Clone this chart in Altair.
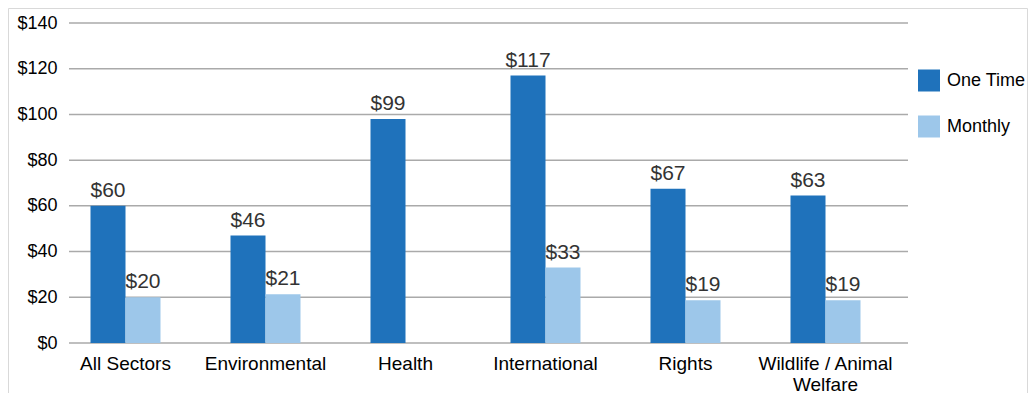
import altair as alt
import pandas as pd

categories = ["All Sectors", "Environmental", "Health", "International", "Rights", "Wildlife / Animal Welfare"]
series_names = ["One Time", "Monthly"]
one_time = [60, 47, 98, 117, 67.5, 64.5]
monthly = [20, 21.3, None, 33, 18.7, 18.7]
one_time_labels = ["$60", "$46", "$99", "$117", "$67", "$63"]
monthly_labels = ["$20", "$21", None, "$33", "$19", "$19"]
y_ticks = [0, 20, 40, 60, 80, 100, 120, 140]
colors = ["#1f72bb", "#9dc7ea"]

rows = []
for c, v, l in zip(categories, one_time, one_time_labels):
    rows.append({"category": c, "series": "One Time", "value": v, "label": l})
for c, v, l in zip(categories, monthly, monthly_labels):
    if v is not None:
        rows.append({"category": c, "series": "Monthly", "value": v, "label": l})
df = pd.DataFrame(rows)
grid_df = pd.DataFrame({"value": y_ticks})

FONT = "Liberation Sans"

x_enc = alt.X(
    "category:N",
    sort=categories,
    scale=alt.Scale(range=[-13.5, 826.5], paddingInner=0.5, paddingOuter=0.25),
    axis=alt.Axis(
        title=None, labelAngle=0, domain=False, ticks=False, grid=False, labelPadding=11,
        labelFontSize=19, labelColor="#000", labelFont=FONT, labelLineHeight=21,
        labelExpr="datum.label == 'Wildlife / Animal Welfare' ? ['Wildlife / Animal', 'Welfare'] : datum.label",
    ),
)
xoff = alt.XOffset("series:N", sort=series_names,
                   scale=alt.Scale(domain=series_names, paddingInner=0, paddingOuter=0))
y_scale = alt.Scale(domain=[0, 140], nice=False)
y_enc = alt.Y(
    "value:Q",
    scale=y_scale,
    axis=alt.Axis(
        title=None, values=y_ticks, domain=False, ticks=False, labelPadding=12,
        labelFontSize=18, labelColor="#000", labelFont=FONT,
        labelExpr="'$' + datum.value", grid=False,
    ),
)

gridlines = alt.Chart(grid_df).mark_rule(color="#aaaaaa", strokeWidth=1.5).encode(
    y=alt.Y("value:Q", scale=y_scale),
    x=alt.value(0),
    x2=alt.value(839),
)

base = alt.Chart(df)

bars = base.mark_bar().encode(
    x=x_enc,
    xOffset=xoff,
    y=y_enc,
    color=alt.Color(
        "series:N",
        sort=series_names,
        scale=alt.Scale(domain=series_names, range=colors),
        legend=alt.Legend(
            title=None, orient="none", legendX=849, legendY=46.5,
            symbolType="square", symbolSize=484, symbolStrokeWidth=0,
            labelFontSize=18, labelFont=FONT, labelColor="#000", labelOffset=7,
            rowPadding=24, padding=0,
        ),
    ),
)

texts = base.mark_text(dy=-9, baseline="alphabetic", fontSize=21, color="#333333", font=FONT).encode(
    x=alt.X("category:N", sort=categories),
    xOffset=xoff,
    y=alt.Y("value:Q"),
    text="label:N",
)

border = alt.Chart(pd.DataFrame({"a": [0]})).mark_rect(
    fillOpacity=0, stroke="#d9d9d9", strokeWidth=1
).encode(
    x=alt.value(-60.5), x2=alt.value(958.5), y=alt.value(-14.5), y2=alt.value(420)
)

chart = alt.layer(gridlines, bars, texts, border).properties(
    width=839, height=320,
    view=alt.ViewBackground(strokeWidth=0, strokeOpacity=0),
    autosize=alt.AutoSizeParams(type="none"),
    padding={"left": 61, "top": 15, "right": 120, "bottom": 50},
).configure(
    font=FONT,
    view=alt.ViewConfig(strokeWidth=0, strokeOpacity=0),
    style={"cell": {"strokeWidth": 0, "strokeOpacity": 0}},
)

chart.save("out.html", embed_options={"renderer": "svg", "actions": False})
